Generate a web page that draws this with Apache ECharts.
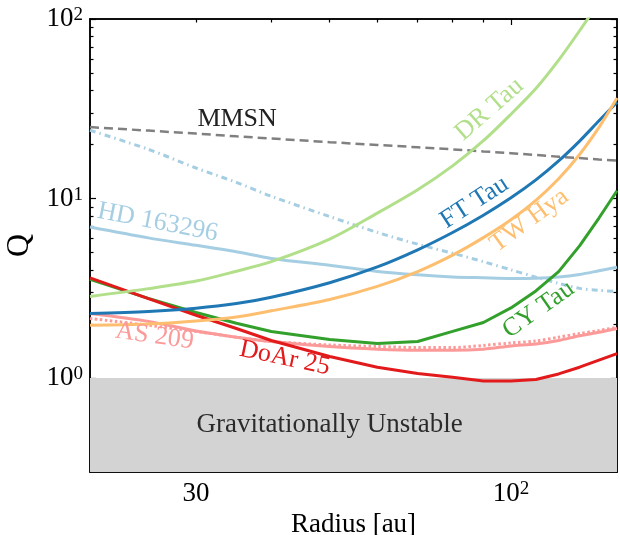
<!DOCTYPE html>
<html><head><meta charset="utf-8">
<script src="https://cdn.jsdelivr.net/npm/echarts@6/dist/echarts.min.js"></script>
<style>html,body{margin:0;padding:0;background:#fff}#c{width:620px;height:535px}</style>
</head><body><div id="c"></div>
<script>
// ---- data ----
const radius = [20, 25, 30, 35, 40, 50, 60, 70, 80, 90, 100, 110, 120, 130, 140, 150];
const qMMSN      = [25.0, 23.9, 23.0, 22.2, 21.6, 20.6, 19.9, 19.3, 18.8, 18.3, 17.9, 17.5, 17.1, 16.8, 16.5, 16.3];
const qHD163296b = [24.0, 18.8, 14.8, 12.3, 10.3, 7.94, 6.48, 5.57, 4.96, 4.45, 4.01, 3.65, 3.37, 3.16, 3.08, 3.04];
const qHD163296  = [6.94, 6.04, 5.49, 5.05, 4.64, 4.25, 3.93, 3.76, 3.66, 3.62, 3.59, 3.60, 3.66, 3.78, 3.96, 4.14];
const qAS209b    = [2.15, 1.97, 1.82, 1.69, 1.60, 1.53, 1.50, 1.48, 1.48, 1.52, 1.57, 1.61, 1.69, 1.77, 1.84, 1.92];
const qAS209     = [2.29, 2.07, 1.83, 1.69, 1.60, 1.50, 1.45, 1.43, 1.43, 1.45, 1.51, 1.55, 1.62, 1.72, 1.80, 1.89];
const qCYTau     = [3.55, 2.78, 2.32, 2.02, 1.82, 1.64, 1.56, 1.60, 1.82, 2.04, 2.46, 3.06, 3.92, 5.45, 7.79, 11.05];
const qDoAr25    = [3.62, 2.77, 2.24, 1.89, 1.62, 1.32, 1.15, 1.06, 1.01, 0.965, 0.965, 0.983, 1.055, 1.15, 1.26, 1.37];
const qDRTau     = [2.85, 3.15, 3.47, 3.94, 4.45, 5.95, 8.3, 11.2, 15.2, 21.0, 29.5, 41, 59, 86, 124, 175];
const qFTTau     = [2.29, 2.35, 2.45, 2.60, 2.82, 3.40, 4.16, 5.18, 6.47, 8.08, 10.1, 12.7, 16.2, 20.9, 27.1, 34.4];
const qTWHya     = [1.97, 2.00, 2.08, 2.19, 2.37, 2.74, 3.24, 3.92, 4.84, 6.06, 7.62, 9.78, 12.9, 17.6, 24.9, 36.3];

const xMajorTicks = [100];
const xMinorTicks = [30, 40, 50, 60, 70, 80, 90];
const xTickLabels = [30, 100];
const yMajorTicks = [1, 10, 100];
const yMinorTicks = [0.4, 0.5, 0.6, 0.7, 0.8, 0.9, 2, 3, 4, 5, 6, 7, 8, 9, 20, 30, 40, 50, 60, 70, 80, 90];
const yTickLabels = [1, 10, 100];
const unstableBand = [0.3, 1];

// ---- chart ----
const F = '"Liberation Serif", "DejaVu Serif", serif';
function fmt(v) {
  const e = Math.log10(v);
  if (Math.abs(e - Math.round(e)) < 1e-6) return '{b|10}{s|' + Math.round(e) + '}';
  return '{b|' + Math.round(v) + '}';
}
const rich = {
  b: {fontSize: 27, fontFamily: F, color: '#000'},
  s: {fontSize: 19, fontFamily: F, color: '#000', verticalAlign: 'top'}
};
const lineAx = {show: true, onZero: false, lineStyle: {color: '#000', width: 1.5}};
function xAx(pos, ticks, len, labels) {
  return {type: 'log', logBase: 10, min: 20, max: 150, position: pos, gridIndex: 0,
    axisLine: lineAx,
    axisTick: {show: true, inside: true, length: len, customValues: ticks, lineStyle: {color: '#000', width: 1.2}},
    axisLabel: labels ? {show: true, customValues: labels, formatter: fmt, rich: rich, margin: 8} : {show: false},
    splitLine: {show: false}, minorTick: {show: false}, minorSplitLine: {show: false}};
}
function yAx(pos, ticks, len, labels) {
  return {type: 'log', logBase: 10, min: 0.3, max: 100, position: pos, gridIndex: 0,
    axisLine: lineAx,
    axisTick: {show: true, inside: true, length: len, customValues: ticks, lineStyle: {color: '#000', width: 1.2}},
    axisLabel: labels ? {show: true, customValues: labels, formatter: fmt, rich: rich, margin: 7} : {show: false},
    splitLine: {show: false}, minorTick: {show: false}, minorSplitLine: {show: false}};
}
const xAxes = [xAx('bottom', xMajorTicks, 6, xTickLabels), xAx('bottom', xMinorTicks, 3.5, null),
               xAx('top', xMajorTicks, 6, null), xAx('top', xMinorTicks, 3.5, null)];
const yAxes = [yAx('left', yMajorTicks, 6, yTickLabels), yAx('left', yMinorTicks, 3.5, null),
               yAx('right', yMajorTicks, 6, null), yAx('right', yMinorTicks, 3.5, null)];
xAxes[0].name = 'Radius [au]';
xAxes[0].nameLocation = 'middle';
xAxes[0].nameGap = 34;
xAxes[0].nameTextStyle = {fontSize: 27, fontFamily: F, color: '#000'};
yAxes[0].name = 'Q';
yAxes[0].nameLocation = 'middle';
yAxes[0].nameGap = 50;
yAxes[0].nameTextStyle = {fontSize: 32, fontFamily: F, color: '#000'};

function pts(arr) { return radius.map((r, i) => [r, arr[i]]); }
function tag(text, coord, rot, color) {
  return {markPoint: {symbol: 'circle', symbolSize: 1, silent: true, animation: false,
    itemStyle: {color: 'rgba(0,0,0,0)'},
    data: [{coord: coord, label: {show: true, position: 'inside', formatter: text, rotate: rot,
      fontSize: 26, fontFamily: F, color: color}}]}};
}
function line(name, arr, color, type, width, smooth, extra) {
  return Object.assign({name: name, type: 'line', data: pts(arr), xAxisIndex: 0, yAxisIndex: 0,
    showSymbol: false, symbol: 'none', silent: true, animation: false, clip: true, smooth: smooth,
    lineStyle: {color: color, width: width, type: type, cap: 'butt'}}, extra || {});
}
const W = 3;
const series = [
  line('MMSN', qMMSN, '#808080', [9, 5], 2.5, false, Object.assign({
    markArea: {silent: true, itemStyle: {color: '#d3d3d3'},
      data: [[{yAxis: unstableBand[0]}, {yAxis: unstableBand[1]}]]}
  }, tag('MMSN', [35.1, 27.6], 0, '#222'))),
  line('HD 163296 (b)', qHD163296b, '#a6cee3', [6, 4, 1.5, 4], W, 0.3),
  line('AS 209 (b)', qAS209b, '#fb9a99', [2.5, 2.5], W, 0.3),
  line('HD 163296', qHD163296, '#a6cee3', 'solid', W, 0.3, tag('HD 163296', [25.9, 7.37], -11, '#a6cee3')),
  line('AS 209', qAS209, '#fb9a99', 'solid', W, 0.3, tag('AS 209', [25.6, 1.71], -8, '#fb9a99')),
  line('CY Tau', qCYTau, '#33a02c', 'solid', W, false, tag('CY Tau', [111.1, 2.41], 35, '#33a02c')),
  line('DoAr 25', qDoAr25, '#e31a1c', 'solid', W, false, tag('DoAr 25', [42.1, 1.29], -12, '#e31a1c')),
  line('DR Tau', qDRTau, '#b2df8a', 'solid', W, 0.3, tag('DR Tau', [92.1, 31.4], 41, '#b2df8a')),
  line('FT Tau', qFTTau, '#1f78b4', 'solid', W, 0.3, tag('FT Tau', [87.0, 9.52], 33, '#1f78b4')),
  line('TW Hya', qTWHya, '#fdbf6f', 'solid', W, 0.3, tag('TW Hya', [107.3, 7.56], 36, '#fdbf6f')),
  {type: 'scatter', data: [[50, 0.552]], symbolSize: 0, silent: true, animation: false,
   label: {show: true, position: 'inside', formatter: 'Gravitationally Unstable', fontSize: 27, fontFamily: F, color: '#000'}}
];

const chart = echarts.init(document.getElementById('c'), null, {renderer: 'canvas'});
chart.setOption({
  animation: false,
  backgroundColor: '#fff',
  grid: {left: 90, top: 19, right: 3, bottom: 63, containLabel: false, outerBoundsMode: 'none'},
  xAxis: xAxes,
  yAxis: yAxes,
  series: series
});
</script></body></html>
